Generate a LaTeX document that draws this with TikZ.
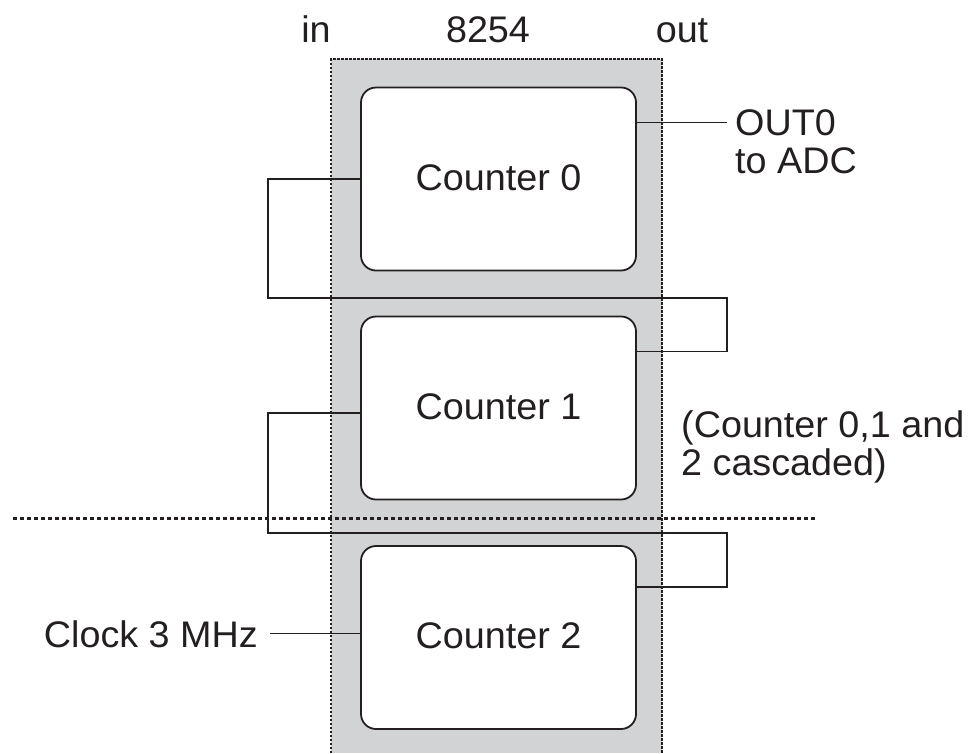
\documentclass[tikz,border=0pt]{standalone}
\usepackage{fontspec}
\setmainfont{Liberation Sans}[FakeStretch=1.02]
\usetikzlibrary{calc}
\definecolor{ink}{HTML}{231F20}
\definecolor{chipgray}{HTML}{D1D3D4}
\tikzset{
  lbl/.style={inner sep=0pt, text=ink, font=\fontsize{37}{38}\selectfont},
  counterbox/.style={draw=ink, line width=1.8pt, fill=white, rounded corners=15pt,
    minimum width=275pt, minimum height=183pt, inner sep=0pt, text=ink,
    font=\fontsize{37}{38}\selectfont},
  wire/.style={draw=ink, line width=1.4pt},
  chipedge/.style={draw=ink, line width=1.4pt, dash pattern=on 2.5pt off 1.5pt},
  divider/.style={draw=ink, line width=3pt, dash pattern=on 4pt off 3pt}
}
\begin{document}
\begin{tikzpicture}[x=1pt, y=-1pt]
  \useasboundingbox (0,0) rectangle (969,753);

  % the 8254 chip outline
  \fill[chipgray] (331,59) rectangle (662,753);
  \draw[chipedge] (331,753) -- (331,59) -- (662,59) -- (662,753);

  % column headings
  \node[lbl, anchor=base] (hin)  at (316,42)   {in};
  \node[lbl, anchor=base] (hchip) at (488,42) {8254};
  \node[lbl, anchor=base] (hout) at (682,42)   {out};

  % the three counters
  \node[counterbox] (c0) at (498.5,179)   {\raisebox{3pt}{Counter 0}};
  \node[counterbox] (c1) at (498.5,408)   {\raisebox{3pt}{Counter 1}};
  \node[counterbox] (c2) at (498.5,637.5) {\raisebox{3pt}{Counter 2}};

  % cascade wiring
  \coordinate (j0l) at (268,298);
  \coordinate (j0r) at (727,298);
  \coordinate (j1l) at (268,533);
  \coordinate (j1r) at (727,533);
  \draw[wire] (c0.west) -| (j0l) -- (j0r) |- ($(c1.north east)+(0,36)$);
  \draw[wire] ($(c1.west)+(0,5)$) -| (j1l) -- (j1r) |- ($(c2.north east)+(0,42)$);

  % output of counter 0
  \node[lbl, anchor=base west] (out0) at (735,135) {OUT0};
  \node[lbl, anchor=base west] (adc)  at (735,173) {to ADC};
  \draw[wire] (c0.east |- out0.west) -- ([xshift=-8pt]out0.west);

  % clock input
  \node[lbl, anchor=base east] (clk) at (258,647) {Clock 3 MHz};
  \draw[wire] ([xshift=12pt]clk.east) -- (c2.west |- clk.east);

  % note
  \node[lbl, anchor=base west] (note1) at (681,437) {(Counter 0,1 and};
  \node[lbl, anchor=base west] (note2) at (681,475) {2 cascaded)};

  % dotted divider
  \coordinate (dl) at (13,518);
  \coordinate (dr) at (817,518);
  \draw[divider] (dl) -- (dr);
\end{tikzpicture}
\end{document}
